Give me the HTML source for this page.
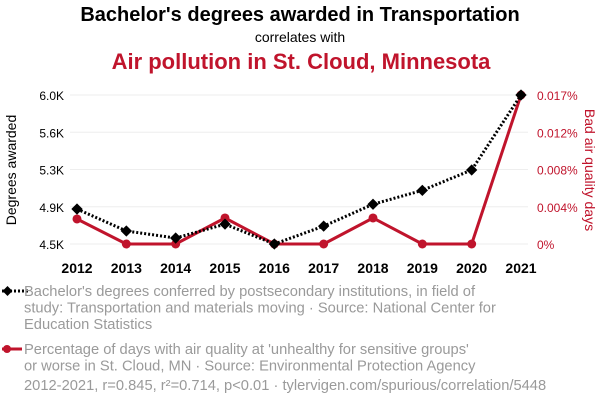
<!DOCTYPE html>
<html><head><meta charset="utf-8"><style>
body{margin:0;background:#fff;font-family:"Liberation Sans",sans-serif}
#c{position:relative;width:600px;height:408px;overflow:hidden}
</style></head><body>
<div id="c">
<svg id="s" width="600" height="408" xmlns="http://www.w3.org/2000/svg" font-family="Liberation Sans, sans-serif">
<text x="300" y="21" text-anchor="middle" font-size="20" font-weight="bold" fill="#000">Bachelor's degrees awarded in Transportation</text>
<text x="300" y="42" text-anchor="middle" font-size="14" fill="#000">correlates with</text>
<text x="301" y="69" text-anchor="middle" font-size="22" font-weight="bold" fill="#c0142c">Air pollution in St. Cloud, Minnesota</text>
<text transform="translate(16,170) rotate(-90)" text-anchor="middle" font-size="14" fill="#000">Degrees awarded</text>
<text transform="translate(585,170) rotate(90)" text-anchor="middle" font-size="14" fill="#c0142c">Bad air quality days</text>
<g id="grid"></g><g id="axes"></g><g id="marks"></g>
<g font-size="14.7" fill="#9a9a9a">
<line x1="2" y1="291" x2="28" y2="291" stroke="#000" stroke-width="3" stroke-dasharray="2,2"/>
<rect x="4" y="287.5" width="7" height="7" transform="rotate(45 7.5 291)" fill="#000"/>
<text x="24" y="296"><tspan x="24">Bachelor's degrees conferred by postsecondary institutions, in field of</tspan><tspan x="24" dy="16.5">study: Transportation and materials moving · Source: National Center for</tspan><tspan x="24" dy="16.5">Education Statistics</tspan></text>
<line x1="2" y1="349" x2="22" y2="349" stroke="#c0142c" stroke-width="3"/>
<circle cx="7" cy="349" r="4" fill="#c0142c"/>
<text x="24" y="354"><tspan x="24">Percentage of days with air quality at 'unhealthy for sensitive groups'</tspan><tspan x="24" dy="16.5">or worse in St. Cloud, MN · Source: Environmental Protection Agency</tspan></text>
<text x="24" y="390">2012-2021, r=0.845, r²=0.714, p&lt;0.01 · tylervigen.com/spurious/correlation/5448</text>
</g>
</svg>
</div>
<script>
const years=[2012,2013,2014,2015,2016,2017,2018,2019,2020,2021];
const degrees=[4.852,4.631,4.56,4.70,4.5,4.68,4.90,5.04,5.245,6.0];
const air=[0.00277,0,0,0.00288,0,0,0.00288,0,0,0.0165];
const leftTicks=[4.5,4.875,5.25,5.625,6.0];
const leftLabels=["4.5K","4.9K","5.3K","5.6K","6.0K"];
const rightTicks=[0,0.004125,0.00825,0.012375,0.0165];
const rightLabels=["0%","0.004%","0.008%","0.012%","0.017%"];
const NS="http://www.w3.org/2000/svg";
const x=y=>77+(y-2012)*(521-77)/9;
const yl=v=>244-(v-4.5)/1.5*149;
const yr=v=>244-v/0.0165*149;
function mk(t,a,p){const e=document.createElementNS(NS,t);for(const k in a)e.setAttribute(k,a[k]);document.getElementById(p).appendChild(e);return e;}
leftTicks.forEach((t,i)=>{
 const g=mk('line',{x1:70,x2:528,y1:yl(t),y2:yl(t),stroke:'#eee','stroke-width':1},'grid');
 
 
 const l=mk('text',{x:64,y:yl(t)+5,'text-anchor':'end','font-size':12,fill:'#000'},'axes');l.textContent=leftLabels[i];
 
 
});
rightTicks.forEach((t,i)=>{
 const l=mk('text',{x:537,y:yr(t)+5,'font-size':12,fill:'#c0142c'},'axes');l.textContent=rightLabels[i];
 
 
});
years.forEach(y=>{
 const l=mk('text',{x:x(y),y:273,'text-anchor':'middle','font-size':14,'font-weight':'bold',fill:'#000'},'axes');l.textContent=y;
 
 
});
const rl=mk('polyline',{points:years.map((y,i)=>x(y)+','+yr(air[i])).join(' '),fill:'none',stroke:'#c0142c','stroke-width':3,'stroke-linejoin':'round'},'marks');


years.forEach((y,i)=>{const c=mk('circle',{cx:x(y),cy:yr(air[i]),r:4.5,fill:'#c0142c'},'marks');
 
 });
const bl=mk('polyline',{points:years.map((y,i)=>x(y)+','+yl(degrees[i])).join(' '),fill:'none',stroke:'#000','stroke-width':3,'stroke-dasharray':'2,2'},'marks');


years.forEach((y,i)=>{const cx=x(y),cy=yl(degrees[i]);const r=mk('rect',{x:cx-4,y:cy-4,width:8,height:8,fill:'#000',transform:`rotate(45 ${cx} ${cy})`},'marks');
 
 });
</script>
</body></html>
